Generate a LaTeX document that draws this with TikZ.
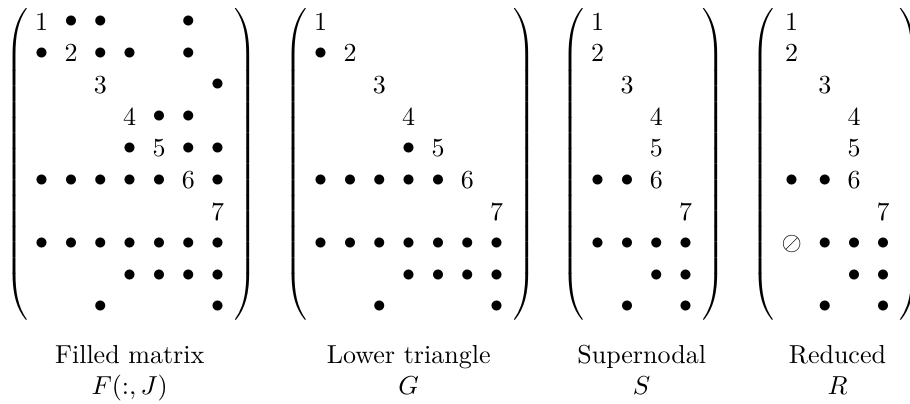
\documentclass[tikz,border=0pt]{standalone}
\usepackage{amsmath,amssymb}
\usepackage{tikz}

\tikzset{
  entry/.style={inner sep=0pt, anchor=center},
  delim/.style={inner sep=0pt},
  caption/.style={align=center, inner sep=0pt, anchor=north}
}
% tall parentheses round each matrix
\newcommand{\delimL}{$\delimiterfactor=1000\delimitershortfall=0pt\left(\vcenter{\hbox{\rule{0pt}{118pt}}}\right.$}
\newcommand{\delimR}{$\delimiterfactor=1000\delimitershortfall=0pt\left.\vcenter{\hbox{\rule{0pt}{118pt}}}\right)$}

\begin{document}
\begin{tikzpicture}[x=1pt,y=1pt]
\useasboundingbox (0,0) rectangle (350,-155.38);

% filled matrix F(:,J)
\begin{scope}[shift={(16.04,-8.35)}]
\foreach \d in {1,...,7}
  \node[entry] (F-\d-\d) at ({(\d-1)*11.28},{-(\d-1)*12.2}) {$\d$};
\foreach \r/\c in {1/2,1/3,1/6,2/1,2/3,2/4,2/6,3/7,4/5,4/6,5/4,5/6,5/7,
    6/1,6/2,6/3,6/4,6/5,6/7,8/1,8/2,8/3,8/4,8/5,8/6,8/7,9/4,9/5,9/6,9/7,10/3,10/7}
  \node[entry] (F-\r-\c) at ({(\c-1)*11.28},{-(\r-1)*12.2}) {$\bullet$};
\node[delim,anchor=west] (F-open) at (-14.2,-54.9) {\delimL};
\node[delim,anchor=east] (F-close) at (83.2,-54.9) {\delimR};
\end{scope}

% lower triangle G
\begin{scope}[shift={(123.35,-8.35)}]
\foreach \d in {1,...,7}
  \node[entry] (G-\d-\d) at ({(\d-1)*11.28},{-(\d-1)*12.2}) {$\d$};
\foreach \r/\c in {2/1,5/4,6/1,6/2,6/3,6/4,6/5,8/1,8/2,8/3,8/4,8/5,8/6,8/7,
    9/4,9/5,9/6,9/7,10/3,10/7}
  \node[entry] (G-\r-\c) at ({(\c-1)*11.28},{-(\r-1)*12.2}) {$\bullet$};
\node[delim,anchor=west] (G-open) at (-14.2,-54.9) {\delimL};
\node[delim,anchor=east] (G-close) at (83.2,-54.9) {\delimR};
\end{scope}

% supernodal S
\begin{scope}[shift={(229.88,-8.35)}]
\foreach \d/\c in {1/1,2/1,3/2,4/3,5/3,6/3,7/4}
  \node[entry] (S-\d-\c) at ({(\c-1)*11.28},{-(\d-1)*12.2}) {$\d$};
\foreach \r/\c in {6/1,6/2,8/1,8/2,8/3,8/4,9/3,9/4,10/2,10/4}
  \node[entry] (S-\r-\c) at ({(\c-1)*11.28},{-(\r-1)*12.2}) {$\bullet$};
\node[delim,anchor=west] (S-open) at (-14.2,-54.9) {\delimL};
\node[delim,anchor=east] (S-close) at (49.3,-54.9) {\delimR};
\end{scope}

% reduced R, first column wider
\begin{scope}[shift={(304.5,-8.35)}]
\foreach \d/\c in {1/1,2/1,3/2,4/3,5/3,6/3,7/4}
  \node[entry] (R-\d-\c) at ({ifthenelse(\c==1,0,12.8+(\c-2)*11.2)},{-(\d-1)*12.2}) {$\d$};
\foreach \r/\c in {6/1,6/2,8/2,8/3,8/4,9/3,9/4,10/2,10/4}
  \node[entry] (R-\r-\c) at ({ifthenelse(\c==1,0,12.8+(\c-2)*11.2)},{-(\r-1)*12.2}) {$\bullet$};
\node[entry] (R-8-1) at (0,-85.4) {$\oslash$};
\node[delim,anchor=west] (R-open) at (-15.5,-54.9) {\delimL};
\node[delim,anchor=east] (R-close) at (50.4,-54.9) {\delimR};
\end{scope}

% captions
\node[caption] (F-cap) at (49.88,-132.66) {Filled matrix\\$F(:,J)$};
\node[caption] (G-cap) at (157.19,-132.66) {Lower triangle\\$G$};
\node[caption] (S-cap) at (246.8,-132.66) {Supernodal\\$S$};
\node[caption] (R-cap) at (322.1,-132.66) {Reduced\\$R$};
\end{tikzpicture}
\end{document}
